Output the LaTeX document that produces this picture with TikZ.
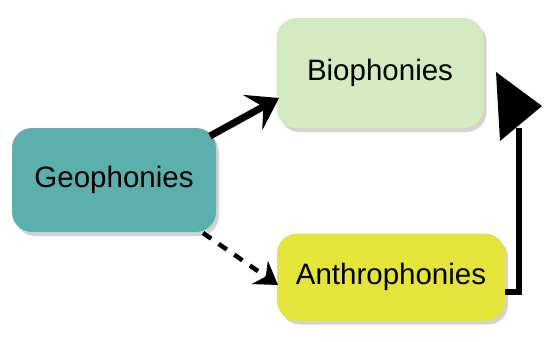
\documentclass[tikz,border=0pt]{standalone}
\usepackage{fontspec}
\setmainfont{Liberation Sans}
\usetikzlibrary{arrows.meta,shadows,positioning}
\definecolor{geo}{HTML}{5BAFAD}
\definecolor{bio}{HTML}{D4EBC1}
\definecolor{anth}{HTML}{E4E43A}
\tikzset{
  box/.style={rounded corners=20pt, inner sep=0pt, drop shadow={shadow xshift=3pt, shadow yshift=-4pt, opacity=0.35},
    font=\fontsize{29.5}{34}\selectfont},
  thickarrow/.style={line width=7pt, -{Stealth[length=30pt,width=40pt,inset=12pt]}},
  dasharrow/.style={line width=4.5pt, dash pattern=on 10pt off 9pt, -{Stealth[length=22pt,width=28pt]}}
}
\begin{document}
\begin{tikzpicture}[x=1pt,y=-1pt]
\useasboundingbox (0,0) rectangle (544,341);
\node[box, fill=geo, minimum width=204pt, minimum height=104pt] (geo) at (114,180) {Geophonies};
\node[box, fill=bio, minimum width=207pt, minimum height=110pt] (bio) at (380,73) {Biophonies};
\node[box, fill=anth, minimum width=228pt, minimum height=87pt] (anth) at (391,277) {Anthrophonies};
\coordinate (gt) at (210,136);
\coordinate (bt) at (279,98);
\draw[thickarrow] (gt) -- (bt);
\coordinate (gd) at (203,233);
\coordinate (ad) at (278,285);
\draw[dasharrow] (gd) -- (ad);
\coordinate (c1) at (519,292);
\coordinate (c2) at (519,128);
\draw[line width=6pt] (anth.east |- c1) -- (c1) -- (c2);
\fill (496,72) -- (542,106) -- (500,141) -- cycle;
\end{tikzpicture}
\end{document}
